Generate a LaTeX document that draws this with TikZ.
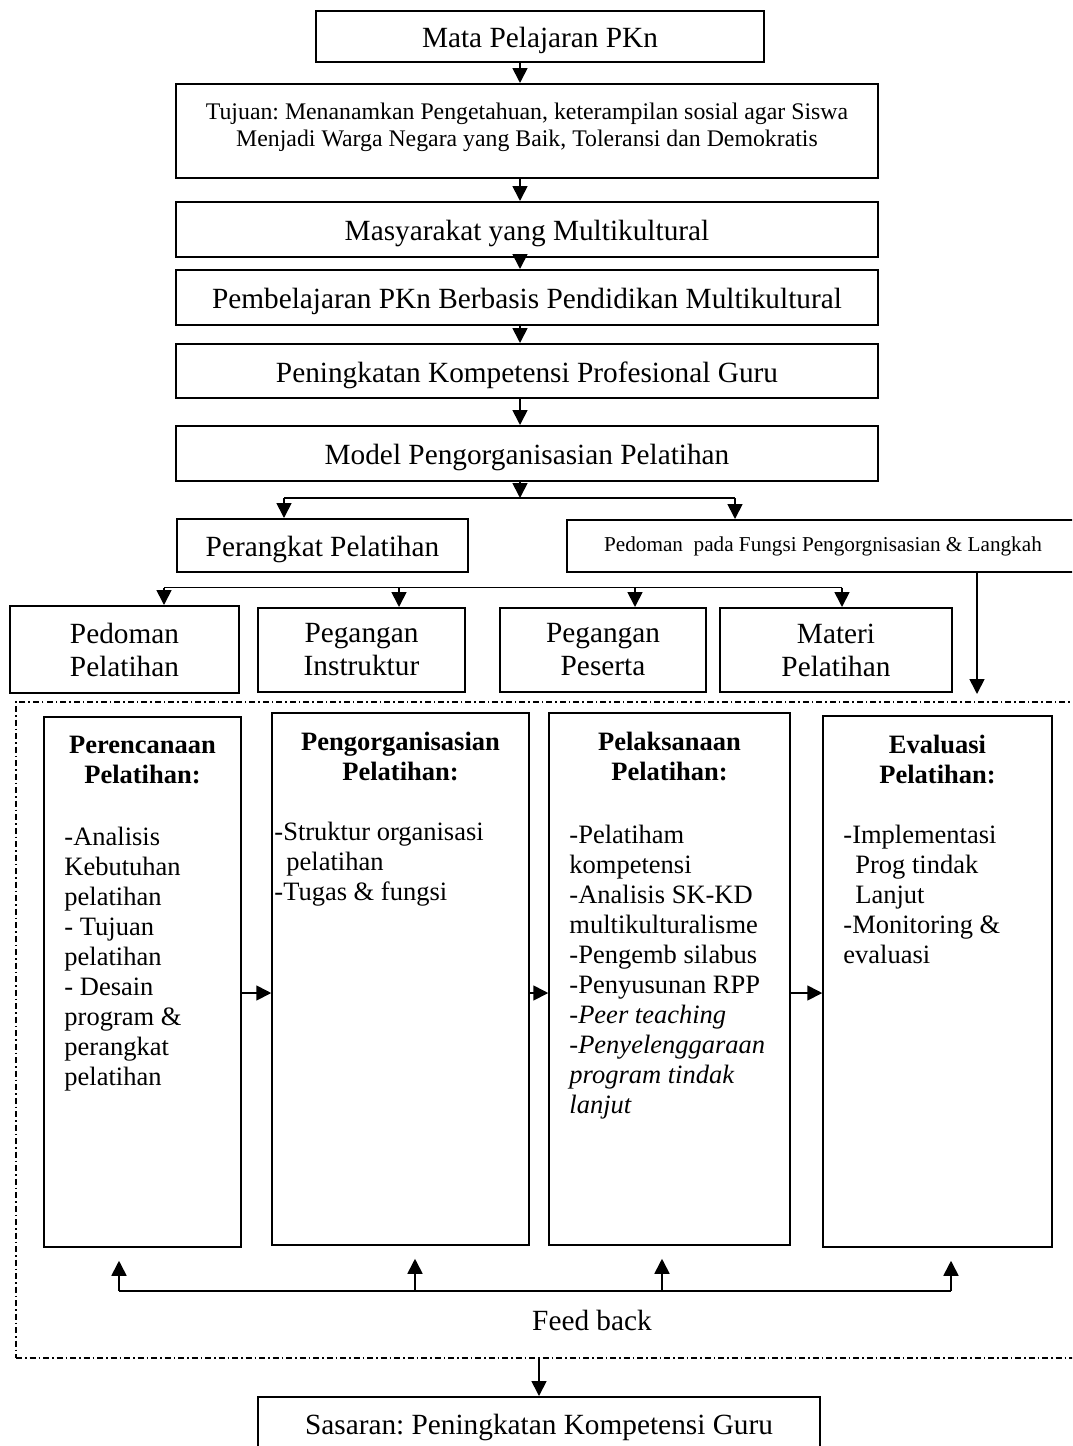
\documentclass[tikz,border=0pt]{standalone}
\usepackage{fontspec}
\setmainfont{Liberation Serif}
\usetikzlibrary{arrows.meta}
\frenchspacing

\newcommand{\bigsize}{\fontsize{29.3}{33}\selectfont}
\newcommand{\midsize}{\fontsize{23.8}{27}\selectfont}
\newcommand{\smallsize}{\fontsize{21.2}{24}\selectfont}
\newcommand{\boxsize}{\fontsize{26.5}{30}\selectfont}

\tikzset{
	box/.style={draw, line width=2pt, inner sep=0pt, align=center, font=\bigsize},
	oneline/.style={text height=22pt, text depth=0pt},
	stagebox/.style={draw, line width=1.5pt, inner sep=0pt},
	stagetitle/.style={anchor=north, inner sep=0pt, align=center, font=\boxsize\bfseries},
	stagelist/.style={anchor=north west, inner sep=0pt, align=left, font=\boxsize},
	arr/.style={line width=1.7pt, -{Triangle[length=15pt,width=15pt]}},
	link/.style={line width=1.7pt},
	frame/.style={draw, line width=1.8pt, dash pattern=on 6pt off 3pt on 1.5pt off 3pt, inner sep=0pt}
}

\begin{document}
\begin{tikzpicture}[x=1pt,y=-1pt]
			\useasboundingbox (0,0) rectangle (1072,1446);
			\clip (0,0) rectangle (1072,1446);
			\node[box, oneline, minimum width=448pt, minimum height=51pt] (mapel) at (540,36.5) {Mata Pelajaran PKn};
			\node[box, font=\midsize, text depth=13pt, minimum width=702pt, minimum height=94pt] (tujuan) at (527,131) {Tujuan: Menanamkan Pengetahuan, keterampilan sosial agar Siswa\\Menjadi Warga Negara yang Baik, Toleransi dan Demokratis};
			\node[box, oneline, minimum width=702pt, minimum height=55pt] (masy) at (527,229.5) {Masyarakat yang Multikultural};
			\node[box, oneline, minimum width=702pt, minimum height=55pt] (pemb) at (527,297.5) {Pembelajaran PKn Berbasis Pendidikan Multikultural};
			\node[box, oneline, minimum width=702pt, minimum height=54pt] (penin) at (527,371) {Peningkatan Kompetensi Profesional Guru};
			\node[box, oneline, minimum width=702pt, minimum height=55pt] (model) at (527,453.5) {Model Pengorganisasian Pelatihan};
			\coordinate (spine) at (520,0);
			\draw[arr] (mapel.south -| spine) -- (tujuan.north -| spine);
			\draw[arr] (tujuan.south -| spine) -- (masy.north -| spine);
			\draw[arr] (masy.south -| spine) -- (pemb.north -| spine);
			\draw[arr] (pemb.south -| spine) -- (penin.north -| spine);
			\draw[arr] (penin.south -| spine) -- (model.north -| spine);
			\node[box, oneline, minimum width=291pt, minimum height=53pt] (perangkat) at (322.5,545.5) {Perangkat Pelatihan};
			\node[box, font=\smallsize, minimum width=512pt, minimum height=52pt] (pedpada) at (823,546) {Pedoman\ \ pada Fungsi Pengorgnisasian \& Langkah};
			\coordinate (split) at (520,498);
			\coordinate (b1l) at (284,498);
			\coordinate (b1r) at (735,498);
			\draw[arr] (model.south -| split) -- (split);
			\draw[link] (b1l) -- (b1r);
			\draw[arr] (b1l) -- (b1l |- perangkat.north);
			\draw[arr] (b1r) -- (b1r |- pedpada.north);
			\node[box, minimum width=229pt, minimum height=87pt] (pedlat) at (124.5,649.5) {Pedoman\\Pelatihan};
			\node[box, minimum width=207pt, minimum height=84pt] (pegins) at (361.5,650) {Pegangan\\Instruktur};
			\node[box, minimum width=206pt, minimum height=84pt] (pegpes) at (603,650) {Pegangan\\Peserta};
			\node[box, minimum width=232pt, minimum height=84pt] (materi) at (836,650) {Materi\\Pelatihan};
			\coordinate (b2a) at (164,587.5);
			\coordinate (b2b) at (399,587.5);
			\coordinate (b2c) at (635,587.5);
			\coordinate (b2d) at (842,587.5);
			\draw[link] (b2a) -- (b2d);
			\draw[arr] (b2a) -- (b2a |- pedlat.north);
			\draw[arr] (b2b) -- (b2b |- pegins.north);
			\draw[arr] (b2c) -- (b2c |- pegpes.north);
			\draw[arr] (b2d) -- (b2d |- materi.north);
			\node[frame, minimum width=1074pt, minimum height=656pt] (stages) at (553,1030) {};
			\coordinate (into) at (977,694);
			\draw[arr] (pedpada.south -| into) -- (into);
			\node[stagebox, minimum width=197pt, minimum height=530pt] (plan) at (142.5,982) {};
			\node[stagebox, minimum width=257pt, minimum height=532pt] (org) at (400.5,979) {};
			\node[stagebox, minimum width=241pt, minimum height=532pt] (impl) at (669.5,979) {};
			\node[stagebox, minimum width=229pt, minimum height=531pt] (eval) at (937.5,981.5) {};
			\node[stagetitle] (plantitle) at ([yshift=-20pt]plan.north) {Perencanaan\\Pelatihan:};
			\node[stagetitle] (orgtitle) at ([yshift=-20pt]org.north) {Pengorganisasian\\Pelatihan:};
			\node[stagetitle] (impltitle) at ([yshift=-20pt]impl.north) {Pelaksanaan\\Pelatihan:};
			\node[stagetitle] (evaltitle) at ([yshift=-20pt]eval.north) {Evaluasi\\Pelatihan:};
			\node[stagelist] (planlist) at ([xshift=21pt,yshift=-111pt]plan.north west) {-Analisis\\Kebutuhan\\pelatihan\\- Tujuan\\pelatihan\\- Desain\\program \&\\perangkat\\pelatihan};
			\node[stagelist] (orglist) at ([xshift=3pt,yshift=-110pt]org.north west) {-Struktur organisasi\\\hspace*{0.45em}pelatihan\\-Tugas \& fungsi};
			\node[stagelist] (impllist) at ([xshift=21pt,yshift=-113pt]impl.north west) {-Pelatiham\\kompetensi\\-Analisis SK-KD\\multikulturalisme\\-Pengemb silabus\\-Penyusunan RPP\\\textit{-Peer teaching}\\\textit{-Penyelenggaraan}\\\textit{program tindak}\\\textit{lanjut}};
			\node[stagelist] (evallist) at ([xshift=21pt,yshift=-110pt]eval.north west) {-Implementasi\\\hspace*{0.45em}Prog tindak\\\hspace*{0.45em}Lanjut\\-Monitoring \&\\evaluasi};
			\coordinate (flow) at (0,993);
			\draw[arr] (plan.east |- flow) -- (org.west |- flow);
			\draw[arr] (org.east |- flow) -- (impl.west |- flow);
			\draw[arr] (impl.east |- flow) -- (eval.west |- flow);
			\coordinate (fb1) at (119,1291);
			\coordinate (fb2) at (415,1291);
			\coordinate (fb3) at (662,1291);
			\coordinate (fb4) at (951,1291);
			\draw[link] (fb1) -- (fb4);
			\foreach \p/\q in {fb1/plan, fb2/org, fb3/impl, fb4/eval}
				\draw[arr] (\p) -- ([yshift=-13pt]\p |- \q.south);
			\node[font=\bigsize, inner sep=0pt] (feedback) at (592,1320) {Feed back};
			\node[box, minimum width=562pt, minimum height=60pt] (sasaran) at (539,1427) {Sasaran: Peningkatan Kompetensi Guru};
			\draw[arr] (stages.south -| sasaran.north) -- (sasaran.north);
			\end{tikzpicture}
\end{document}
